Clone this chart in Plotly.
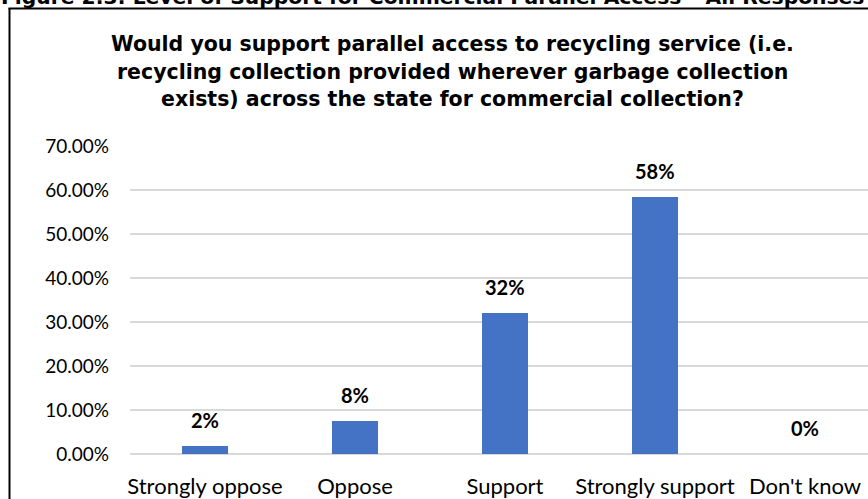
import plotly.graph_objects as go

categories = ["Strongly oppose", "Oppose", "Support", "Strongly support", "Don't know"]
values = [1.8, 7.5, 32.0, 58.4, 0.0]
data_labels = ["2%", "8%", "32%", "58%", "0%"]
y_ticks = [0, 10, 20, 30, 40, 50, 60, 70]
y_tick_labels = ["0.00%", "10.00%", "20.00%", "30.00%", "40.00%", "50.00%", "60.00%", "70.00%"]
title_lines = [
    "Would you support parallel access to recycling service (i.e.",
    "recycling collection provided wherever garbage collection",
    "exists) across the state for commercial collection?",
]
caption_text = "Figure 2.3: Level of Support for Commercial Parallel Access \u2013 All Responses"

W, H = 868, 499
L, R, T, B = 130, 0, 146, 45
PW = W - L - R
PH = H - T - B

def px_x(px):
    return (px - L) / PW

def px_y(py):
    return (H - B - py) / PH

fig = go.Figure()
fig.add_trace(go.Bar(
    x=list(range(len(categories))), y=values,
    marker=dict(color="#4472C4", line=dict(width=0)),
    width=0.313,
    hoverinfo="skip",
))

annotations = []
for i, (v, t) in enumerate(zip(values, data_labels)):
    annotations.append(dict(
        x=i, y=v, xref="x", yref="y", text="<b>%s</b>" % t, showarrow=False,
        yanchor="bottom", yshift=12,
        font=dict(family="Lato", size=20, color="#000000"),
    ))

for line, cy in zip(title_lines, [44, 71.5, 99]):
    annotations.append(dict(
        x=px_x(452), y=px_y(cy), xref="paper", yref="paper",
        text="<b>" + line + "</b>", showarrow=False,
        xanchor="center", yanchor="middle", align="center",
        font=dict(family="DejaVu Sans", size=20.5, color="#000000"),
    ))

annotations.append(dict(
    x=px_x(-1), y=px_y(11), xref="paper", yref="paper",
    text="<b>" + caption_text + "</b>", showarrow=False,
    xanchor="left", yanchor="bottom", align="left",
    font=dict(family="DejaVu Sans", size=20.3, color="#000000"),
))

shapes = [
    dict(type="line", xref="paper", yref="paper",
         x0=px_x(9.5), x1=px_x(9.5), y0=px_y(8), y1=px_y(520),
         line=dict(color="#000000", width=2)),
    dict(type="line", xref="paper", yref="paper",
         x0=px_x(8.5), x1=px_x(900), y0=px_y(8.5), y1=px_y(8.5),
         line=dict(color="#000000", width=2)),
]

fig.update_layout(
    width=W, height=H,
    margin=dict(l=L, r=R, t=T, b=B, pad=0),
    paper_bgcolor="#FFFFFF", plot_bgcolor="#FFFFFF",
    showlegend=False,
    annotations=annotations,
    shapes=shapes,
    bargap=0,
    xaxis=dict(
        range=[-0.5, PW / 150 - 0.5],
        tickmode="array", tickvals=list(range(len(categories))), ticktext=categories,
        showgrid=False, zeroline=False, showline=False, ticks="",
        tickfont=dict(family="Lato", size=22, color="#000000"),
        ticklabelstandoff=17,
        fixedrange=True,
    ),
    yaxis=dict(
        range=[0, 70],
        tickmode="array", tickvals=y_ticks, ticktext=y_tick_labels,
        showgrid=True, gridcolor="#D9D9D9", gridwidth=1.5,
        zeroline=True, zerolinecolor="#D9D9D9", zerolinewidth=1.5,
        showline=False, ticks="",
        tickfont=dict(family="Lato", size=19, color="#000000"),
        ticklabelstandoff=20,
        fixedrange=True,
    ),
)

fig.write_html("out.html", config={"displayModeBar": False})
